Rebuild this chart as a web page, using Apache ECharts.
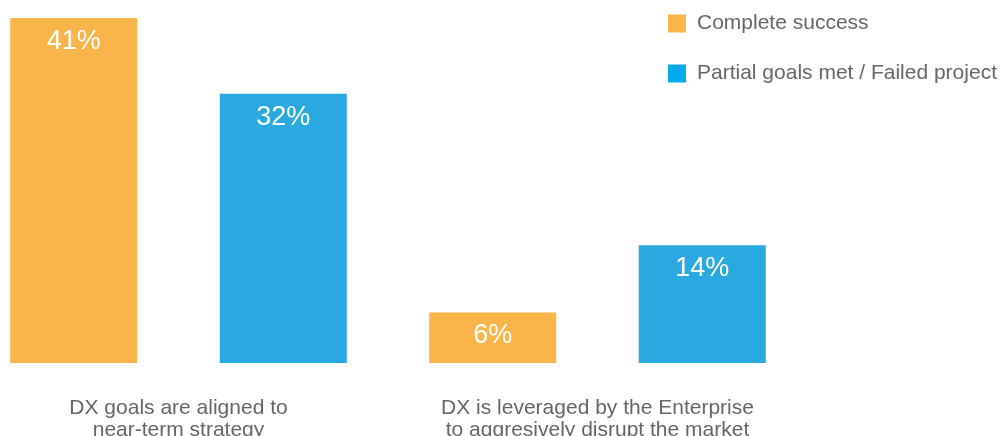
<!DOCTYPE html>
<html>
<head>
<meta charset="utf-8">
<script src="https://cdn.jsdelivr.net/npm/echarts@6/dist/echarts.min.js"></script>
<style>html,body{margin:0;padding:0;background:#fff;}#c{width:1006px;height:436px;}</style>
</head>
<body>
<div id="c"></div>
<script>
const categories = ["DX goals are aligned to\nnear-term strategy", "DX is leveraged by the Enterprise\nto aggresively disrupt the market"];
const seriesNames = ["Complete success", "Partial goals met / Failed project"];
const completeSuccess = [41, 6];
const partialFailed = [32, 14];

const FONT = "'Liberation Sans', Arial, Helvetica, sans-serif";
const chart = echarts.init(document.getElementById('c'), null, {renderer: 'canvas'});
const labelOpt = {
  show: true, position: 'insideTop', distance: 10, color: '#fff',
  fontSize: 27, fontFamily: FONT, formatter: p => p.value + '%'
};
chart.setOption({
  animation: false,
  backgroundColor: '#fff',
  grid: {left: -31, right: 199, top: 18, bottom: 73, containLabel: false, outerBoundsMode: 'none'},
  legend: {
    orient: 'vertical', left: 663, top: 8,
    itemWidth: 18, itemHeight: 18, itemGap: 29,
    textStyle: {fontSize: 21, color: '#666', fontFamily: FONT, padding: [0, 0, 0, 6]},
    data: [
      {name: seriesNames[0], icon: 'rect', itemStyle: {color: '#F9B549'}},
      {name: seriesNames[1], icon: 'rect', itemStyle: {color: '#04AAEC'}}
    ]
  },
  xAxis: {
    type: 'category', data: categories,
    axisLine: {show: false}, axisTick: {show: false},
    axisLabel: {margin: 34, fontSize: 21, lineHeight: 22, color: '#666', fontFamily: FONT, interval: 0}
  },
  yAxis: {type: 'value', min: 0, max: 41, show: false, splitLine: {show: false}},
  series: [
    {name: seriesNames[0], type: 'bar', data: completeSuccess, barWidth: 127, barGap: '65%',
     itemStyle: {color: '#F9B549'}, label: labelOpt},
    {name: seriesNames[1], type: 'bar', data: partialFailed, barWidth: 127, barGap: '65%',
     itemStyle: {color: '#29A9E0'}, label: labelOpt}
  ]
});
</script>
</body>
</html>
